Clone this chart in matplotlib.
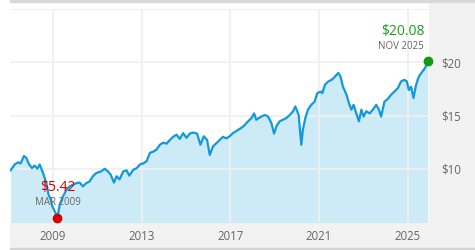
import matplotlib.pyplot as plt
from matplotlib.patches import Rectangle

plt.rcParams['font.family'] = ['Open Sans', 'DejaVu Sans']

# price history (decimal year, price in $)
years = [2007.09, 2007.27, 2007.42, 2007.54, 2007.69, 2007.80, 2007.90, 2008.05, 2008.17, 2008.29,
         2008.40, 2008.55, 2008.70, 2008.80, 2008.90, 2008.97, 2009.08, 2009.20, 2009.30, 2009.45,
         2009.60, 2009.75, 2009.90, 2010.05, 2010.20, 2010.35, 2010.50, 2010.65, 2010.80, 2010.95,
         2011.17, 2011.33, 2011.48, 2011.60, 2011.75, 2011.87, 2012.00, 2012.17, 2012.32, 2012.44,
         2012.62, 2012.77, 2012.92, 2013.07, 2013.22, 2013.37, 2013.52, 2013.67, 2013.82, 2013.97,
         2014.12, 2014.27, 2014.42, 2014.57, 2014.72, 2014.87, 2015.02, 2015.17, 2015.32, 2015.50,
         2015.65, 2015.80, 2015.95, 2016.07, 2016.22, 2016.37, 2016.52, 2016.67, 2016.82, 2016.97,
         2017.12, 2017.35, 2017.57, 2017.80, 2017.95, 2018.07, 2018.17, 2018.28, 2018.40, 2018.55,
         2018.70, 2018.85, 2018.97, 2019.08, 2019.22, 2019.37, 2019.52, 2019.68, 2019.83, 2019.93,
         2020.08, 2020.20, 2020.27, 2020.38, 2020.50, 2020.65, 2020.80, 2020.92, 2021.07, 2021.15,
         2021.27, 2021.42, 2021.57, 2021.72, 2021.87, 2021.97, 2022.08, 2022.24, 2022.35, 2022.46,
         2022.56, 2022.68, 2022.80, 2022.91, 2023.01, 2023.13, 2023.28, 2023.43, 2023.58, 2023.70,
         2023.80, 2023.95, 2024.10, 2024.25, 2024.40, 2024.55, 2024.70, 2024.85, 2024.96, 2025.05,
         2025.15, 2025.26, 2025.38, 2025.50, 2025.65, 2025.78, 2025.90]
prices = [9.85, 10.4, 10.6, 10.5, 11.2, 11.0, 10.5, 10.05, 10.3, 10.0,
          10.4, 9.6, 8.65, 7.55, 7.1, 6.45, 6.0, 5.42, 6.6, 7.4,
          8.0, 8.35, 8.5, 8.65, 8.7, 8.35, 8.65, 8.8, 9.3, 9.6,
          9.75, 10.0, 9.75, 9.45, 8.7, 9.3, 9.0, 9.75, 9.85, 9.35,
          9.9, 10.05, 10.4, 10.5, 10.7, 11.5, 11.6, 11.8, 12.25, 12.45,
          12.35, 12.7, 13.0, 13.2, 12.8, 13.35, 12.9, 13.3, 13.4, 13.3,
          12.25, 13.05, 12.7, 11.3, 12.1, 12.4, 12.7, 13.0, 12.85, 13.05,
          13.35, 13.65, 13.95, 14.45, 14.75, 15.2, 14.6, 14.75, 14.9, 15.05,
          14.9, 14.3, 13.3, 14.0, 14.45, 14.6, 14.75, 15.05, 15.4, 15.85,
          15.05, 12.25, 13.65, 14.75, 15.55, 16.0, 16.3, 17.1, 17.25, 17.1,
          17.9, 18.2, 18.35, 18.65, 19.0, 18.65, 17.7, 16.95, 16.15, 15.55,
          16.0, 15.2, 14.45, 15.55, 14.9, 15.4, 15.2, 15.55, 16.0, 15.55,
          14.9, 16.3, 16.55, 16.95, 17.25, 17.55, 18.2, 18.35, 18.2, 17.4,
          17.7, 16.65, 17.9, 18.65, 19.1, 19.45, 20.08]

low_year, low_price, low_date = 2009.20, 5.42, "MAR 2009"
last_year, last_price, last_date = 2025.90, 20.08, "NOV 2025"

xtick_years = [2009, 2013, 2017, 2021, 2025]
ytick_vals = [10, 15, 20, 25]
ytick_labels = ["$10", "$15", "$20", ""]

W, H = 475, 250
fig = plt.figure(figsize=(4.75, 2.5), dpi=100)
fig.patch.set_facecolor("white")

# gray frame pieces (right label panel, bottom label strip, edge lines)
frame = [((429 / W, 0), 46 / W, 1, "#f2f2f2"),
         ((10 / W, 2 / H), 1, 26 / H, "#f2f2f2"),
         ((10 / W, 0), 1, 2 / H, "#d4d4d4"),
         ((10 / W, 1 - 2 / H), 1, 2 / H, "#d9d9d9")]
for xy, w, h, c in frame:
    fig.patches.append(Rectangle(xy, w, h, transform=fig.transFigure, color=c, zorder=-5))

ax = fig.add_axes([10 / W, 28 / H, 419 / W, 213 / H])
ax.set_facecolor("white")

ax.fill_between(years, prices, 0, color="#cdeaf7", lw=0, zorder=1)
ax.plot(years, prices, color="#1199dd", lw=1.6, zorder=3)

ax.set_xlim(2007.06, 2025.96)
ax.set_ylim(5, 25)

ax.set_xticks(xtick_years)
ax.set_xticklabels([str(y) for y in xtick_years])
ax.set_yticks(ytick_vals)
ax.set_yticklabels(ytick_labels)
ax.yaxis.tick_right()
ax.tick_params(axis="x", length=0, pad=6, labelsize=8.3, labelcolor="#666666")
ax.tick_params(axis="y", length=0, pad=9, labelsize=8.3, labelcolor="#666666")
for lbl in ax.get_yticklabels():
    lbl.set_horizontalalignment("left")

ax.grid(True, color="#f0f0f0", lw=1.3, zorder=2)
ax.set_axisbelow(False)
for s in ax.spines.values():
    s.set_visible(False)

# low point
ax.plot(low_year, low_price, "o", color="#d40000", ms=6, zorder=5, clip_on=False)
ax.annotate("$5.42", (low_year, low_price), xytext=(0, 21.6), textcoords="offset points",
            ha="center", va="center", fontsize=10, color="#d40000", zorder=6)
ax.annotate(low_date, (low_year, low_price), xytext=(0, 10.8), textcoords="offset points",
            ha="center", va="center", fontsize=7, color="#666666", zorder=6)

# latest point
ax.plot(last_year, last_price, "o", color="#139a13", ms=6, zorder=5, clip_on=False)
ax.annotate("$20.08", (last_year, last_price), xytext=(-2.5, 21.6), textcoords="offset points",
            ha="right", va="center", fontsize=10, color="#1a9e1a", zorder=6)
ax.annotate(last_date, (last_year, last_price), xytext=(-2.5, 11), textcoords="offset points",
            ha="right", va="center", fontsize=7, color="#666666", zorder=6)

fig.savefig("out.png", dpi=100)
